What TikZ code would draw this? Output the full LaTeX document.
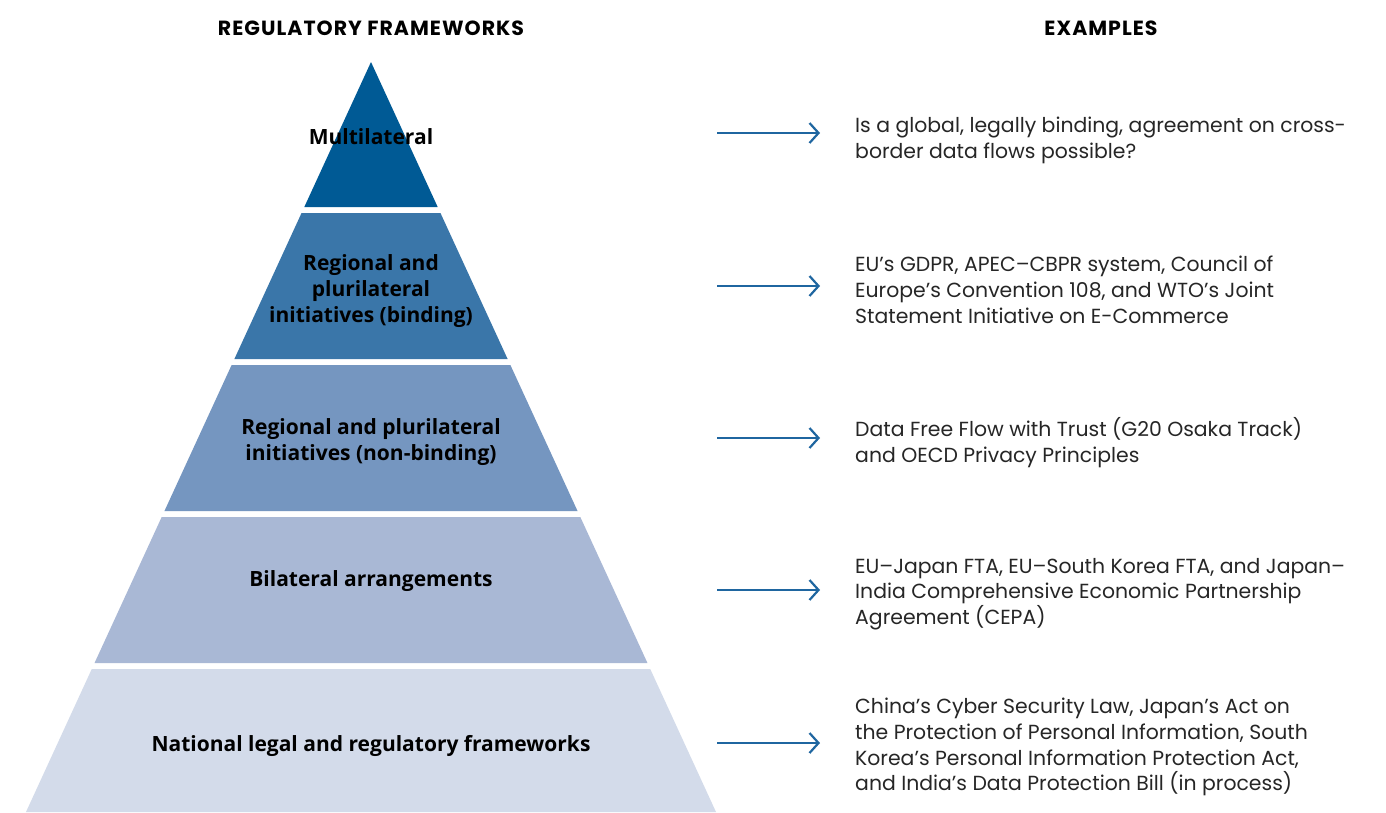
\documentclass[tikz,border=0pt]{standalone}
\usepackage{fontspec}
\setmainfont{Poppins}
\newfontfamily\tierfont{Open Sans}
\usetikzlibrary{arrows.meta}

\definecolor{tierA}{HTML}{005A95}
\definecolor{tierB}{HTML}{3A76A9}
\definecolor{tierC}{HTML}{7596C0}
\definecolor{tierD}{HTML}{A9B8D5}
\definecolor{tierE}{HTML}{D3DBEA}
\definecolor{arrowblue}{HTML}{1F66A0}
\definecolor{bodytext}{HTML}{262626}

% half width of the pyramid at height y (apex at y=62)
\newcommand{\hw}[1]{(0.46*(#1-62))}

\tikzset{
  header/.style={font=\bfseries\fontsize{20.5}{24}\selectfont\addfontfeature{LetterSpace=5}, text=black},
  tierlabel/.style={font=\tierfont\bfseries\fontsize{21}{26}\selectfont, align=center, text=black},
  example/.style={font=\fontsize{20.4}{25.8}\selectfont, align=left, anchor=west, text=bodytext, inner sep=0pt},
  pointer/.style={draw=arrowblue, line width=2.2pt, -{Straight Barb[length=9pt,width=20pt,line width=2.2pt]}},
}

\begin{document}
\begin{tikzpicture}[x=1pt,y=-1pt]
\useasboundingbox[fill=white] (0,0) rectangle (1386,812);

% headings
\node[header] (hleft) at (371,28) {REGULATORY FRAMEWORKS};
\node[header] (hright) at (1101,28) {EXAMPLES};

% pyramid tiers: top y, bottom y, colour
\foreach \ya/\yb/\col in {62/207/tierA, 213/359/tierB, 365/511/tierC, 517/663/tierD, 669/812/tierE}{
  \fill[\col] ({371-\hw{\ya}},\ya) -- ({371+\hw{\ya}},\ya)
              -- ({371+\hw{\yb}},\yb) -- ({371-\hw{\yb}},\yb) -- cycle;
}

% tier labels
\node[tierlabel] (t1) at (371,137) {Multilateral};
\node[tierlabel] (t2) at (371,291) {Regional and\\plurilateral\\initiatives (binding)};
\node[tierlabel] (t3) at (371,442) {Regional and plurilateral\\initiatives (non-binding)};
\node[tierlabel] (t4) at (371,581) {Bilateral arrangements};
\node[tierlabel] (t5) at (371,746) {National legal and regulatory frameworks};

% examples
\node[example] (e1) at (855,140) {Is a global, legally binding, agreement on cross-\\border data flows possible?};
\node[example] (e2) at (855,290) {EU’s GDPR, APEC–CBPR system, Council of\\Europe’s Convention 108, and WTO’s Joint\\Statement Initiative on E-Commerce};
\node[example] (e3) at (855,443) {Data Free Flow with Trust (G20 Osaka Track)\\and OECD Privacy Principles};
\node[example] (e4) at (855,594) {EU–Japan FTA, EU–South Korea FTA, and Japan–\\India Comprehensive Economic Partnership\\Agreement (CEPA)};
\node[example] (e5) at (855,747) {China’s Cyber Security Law, Japan’s Act on\\the Protection of Personal Information, South\\Korea’s Personal Information Protection Act,\\and India’s Data Protection Bill (in process)};

% arrows from the pyramid side towards the examples
\foreach \i/\y in {1/133, 2/286, 3/438, 4/590, 5/743}{
  \coordinate (s\i) at (717,\y);
  \coordinate (f\i) at (820,\y);
  \draw[pointer] (s\i) -- (f\i);
}
\end{tikzpicture}
\end{document}
